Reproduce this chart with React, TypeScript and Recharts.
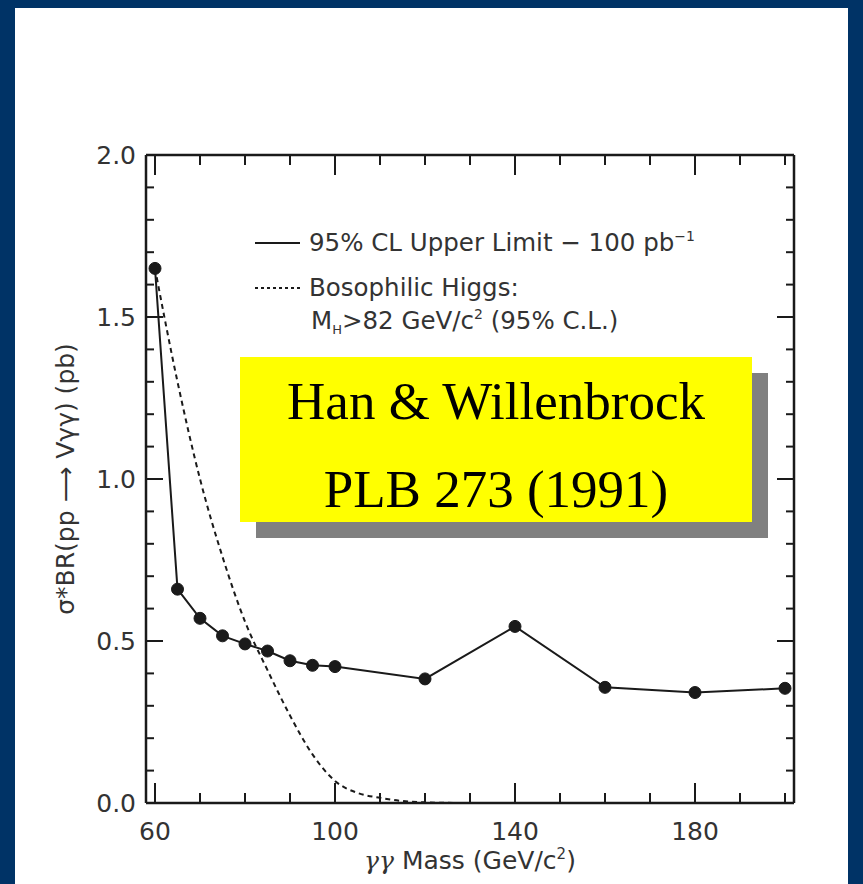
import { Legend, Line, LineChart, XAxis, YAxis } from "recharts";

// 95% CL upper limit (solid, with points)
const limitMass = [60, 65, 70, 75, 80, 85, 90, 95, 100, 120, 140, 160, 180, 200];
const limitXsec = [1.65, 0.66, 0.57, 0.516, 0.491, 0.469, 0.439, 0.425, 0.421, 0.383, 0.545, 0.357, 0.341, 0.354];

// bosophilic Higgs prediction (dashed)
const higgsMass = [60, 65, 70, 75, 80, 85, 90, 95, 100, 105, 110, 115, 120, 125, 130, 135];
const higgsXsec = [1.65, 1.3, 1.0, 0.76, 0.56, 0.41, 0.27, 0.15, 0.068, 0.031, 0.016, 0.006, 0.002, 0.0005, 0, 0];

const massTicks = [60, 70, 80, 90, 100, 110, 120, 130, 140, 150, 160, 170, 180, 190, 200];
const massLabels = [60, 100, 140, 180];
const xsecTicks = [0, 0.1, 0.2, 0.3, 0.4, 0.5, 0.6, 0.7, 0.8, 0.9, 1, 1.1, 1.2, 1.3, 1.4, 1.5, 1.6, 1.7, 1.8, 1.9, 2];
const xsecLabels = [0, 0.5, 1, 1.5, 2];

const limitData = limitMass.map((x, i) => ({ x, y: limitXsec[i] }));
const higgsData = higgsMass.map((x, i) => ({ x, y: higgsXsec[i] }));

const INK = "#1a1a1a";
const TEXT = "#333";
const SANS = "'DejaVu Sans', sans-serif";
const AXIS_W = 2.5;

const isLabel = (list: number[], v: number) => list.some((l) => Math.abs(l - v) < 1e-6);

function BottomTick({ x, y, payload }: any) {
  const major = isLabel(massLabels, payload.value);
  return (
    <g>
      <line x1={x} x2={x} y1={y} y2={y - (major ? 20 : 10)} stroke={INK} strokeWidth={2} />
      {major && (
        <text x={x} y={y + 37} textAnchor="middle" fontFamily={SANS} fontSize={25} fill={TEXT}>
          {payload.value}
        </text>
      )}
    </g>
  );
}

function TopTick({ x, y, payload }: any) {
  const major = isLabel(massLabels, payload.value);
  return <line x1={x} x2={x} y1={y} y2={y + (major ? 20 : 10)} stroke={INK} strokeWidth={2} />;
}

function LeftTick({ x, y, payload }: any) {
  const major = isLabel(xsecLabels, payload.value);
  return (
    <g>
      <line x1={x} x2={x + (major ? 17 : 8)} y1={y} y2={y} stroke={INK} strokeWidth={2} />
      {major && (
        <text x={x - 10} y={y + 9} textAnchor="end" fontFamily={SANS} fontSize={25} fill={TEXT}>
          {Number(payload.value).toFixed(1)}
        </text>
      )}
    </g>
  );
}

function RightTick({ x, y, payload }: any) {
  const major = isLabel(xsecLabels, payload.value);
  return <line x1={x} x2={x - (major ? 17 : 8)} y1={y} y2={y} stroke={INK} strokeWidth={2} />;
}

function YTitle({ viewBox }: any) {
  const cx = viewBox.x + viewBox.width - 81;
  const cy = viewBox.y + viewBox.height / 2;
  return (
    <text
      x={cx}
      y={cy}
      transform={`rotate(-90 ${cx} ${cy})`}
      textAnchor="middle"
      dominantBaseline="central"
      fontFamily={SANS}
      fontSize={25}
      fill={TEXT}
    >
      σ*BR(pp ⟶ Vγγ) (pb)
    </text>
  );
}

function XTitle({ viewBox }: any) {
  const cx = viewBox.x + viewBox.width / 2;
  return (
    <text x={cx} y={viewBox.y + 66} textAnchor="middle" fontFamily={SANS} fontSize={25} fill={TEXT}>
      <tspan fontStyle="italic" fontFamily="'DejaVu Serif', serif">γγ</tspan> Mass (GeV/c
      <tspan fontSize={15} dy={-10}>2</tspan>
      <tspan dy={10}>)</tspan>
    </text>
  );
}

function KeyBox() {
  const row = { display: "flex", alignItems: "center" } as const;
  const sup = { fontSize: 14, position: "relative", top: -10 } as const;
  return (
    <div style={{ fontFamily: SANS, fontSize: 24.5, color: TEXT, lineHeight: 1, whiteSpace: "nowrap" }}>
      <div style={{ ...row, height: 46 }}>
        <svg width={59} height={8}>
          <line x1={5} x2={50} y1={4} y2={4} stroke={INK} strokeWidth={2} />
        </svg>
        <span>
          95% CL Upper Limit − 100 pb<span style={sup}>−1</span>
        </span>
      </div>
      <div style={{ ...row, height: 44 }}>
        <svg width={59} height={8}>
          <line x1={5} x2={50} y1={4} y2={4} stroke={INK} strokeWidth={2} strokeDasharray="3 3" />
        </svg>
        <span>Bosophilic Higgs:</span>
      </div>
      <div style={{ ...row, height: 22, paddingLeft: 61 }}>
        <span>
          M<span style={{ fontSize: 13, position: "relative", top: 5 }}>H</span>&gt;82 GeV/c
          <span style={sup}>2</span> (95% C.L.)
        </span>
      </div>
    </div>
  );
}

export default function App() {
  return (
    <div style={{ position: "absolute", left: 0, top: 0, width: 863, height: 884, background: "#003366" }}>
      <div style={{ position: "absolute", left: 15, top: 8, width: 833, height: 876, background: "#fff" }} />
      <div style={{ position: "absolute", left: 0, top: 0 }}>
        <LineChart width={863} height={884} margin={{ top: 154, right: 68, bottom: 80, left: 145 }}>
          <XAxis
            type="number"
            dataKey="x"
            domain={[58, 202]}
            allowDataOverflow
            ticks={massTicks}
            interval={0}
            height={1}
            tickSize={0}
            tickMargin={0}
            tickLine={false}
            tick={(p: any) => <BottomTick {...p} />}
            axisLine={{ stroke: INK, strokeWidth: AXIS_W }}
            label={(p: any) => <XTitle {...p} />}
          />
          <XAxis
            xAxisId="top"
            orientation="top"
            type="number"
            dataKey="x"
            domain={[58, 202]}
            allowDataOverflow
            ticks={massTicks}
            interval={0}
            height={1}
            tickSize={0}
            tickMargin={0}
            tickLine={false}
            tick={(p: any) => <TopTick {...p} />}
            axisLine={{ stroke: INK, strokeWidth: AXIS_W }}
          />
          <YAxis
            type="number"
            domain={[0, 2]}
            allowDataOverflow
            ticks={xsecTicks}
            interval={0}
            width={1}
            tickSize={0}
            tickMargin={0}
            tickLine={false}
            tick={(p: any) => <LeftTick {...p} />}
            axisLine={{ stroke: INK, strokeWidth: AXIS_W }}
            label={(p: any) => <YTitle {...p} />}
          />
          <YAxis
            yAxisId="right"
            orientation="right"
            type="number"
            domain={[0, 2]}
            allowDataOverflow
            ticks={xsecTicks}
            interval={0}
            width={1}
            tickSize={0}
            tickMargin={0}
            tickLine={false}
            tick={(p: any) => <RightTick {...p} />}
            axisLine={{ stroke: INK, strokeWidth: AXIS_W }}
          />
          <Legend
            layout="horizontal"
            verticalAlign="middle"
            align="center"
            wrapperStyle={{ left: 250, top: 220, width: 500 }}
            content={() => <KeyBox />}
          />
          <Line
            data={higgsData}
            dataKey="y"
            name="Bosophilic Higgs"
            type="monotone"
            stroke={INK}
            strokeWidth={2}
            strokeDasharray="5 4"
            dot={false}
            isAnimationActive={false}
          />
          <Line
            data={limitData}
            dataKey="y"
            name="95% CL Upper Limit"
            type="linear"
            stroke={INK}
            strokeWidth={2}
            dot={{ r: 6, fill: INK, stroke: INK, strokeWidth: 1 }}
            isAnimationActive={false}
          />
        </LineChart>
      </div>
      <div
        style={{
          position: "absolute",
          left: 240,
          top: 357,
          width: 512,
          height: 165,
          background: "#ffff00",
          boxShadow: "16px 16px 0 #808080",
          fontFamily: "'Liberation Serif', serif",
          fontSize: 53,
          color: "#000",
          textAlign: "center",
          lineHeight: "1",
        }}
      >
        <div style={{ position: "absolute", left: 0, right: 0, top: 44, transform: "translateY(-50%)" }}>
          Han &amp; Willenbrock
        </div>
        <div style={{ position: "absolute", left: 0, right: 0, top: 132, transform: "translateY(-50%)" }}>
          PLB 273 (1991)
        </div>
      </div>
    </div>
  );
}
